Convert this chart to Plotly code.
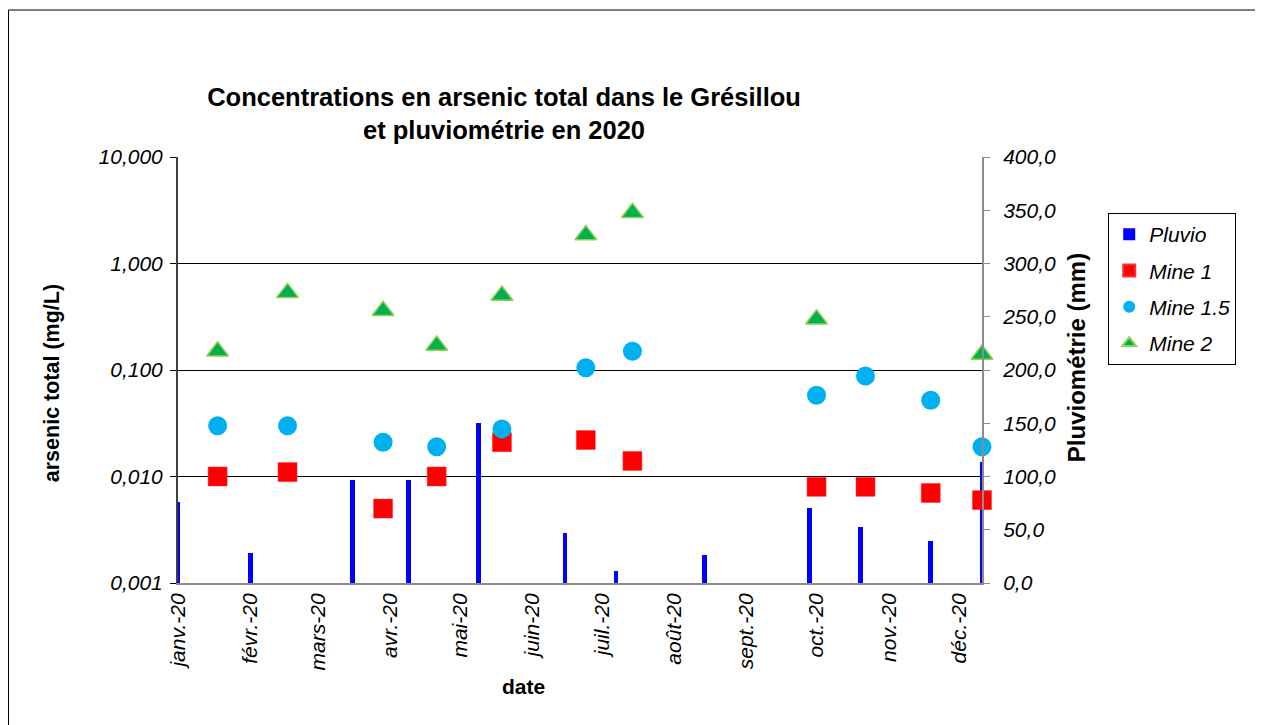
import plotly.graph_objects as go

# rainfall totals (mm), plotted as thin bars on the right axis
pluvio_dates = ["2020-01-01", "2020-02-01", "2020-03-16", "2020-04-09", "2020-05-09", "2020-06-15",
                "2020-07-07", "2020-08-14", "2020-09-28", "2020-10-20", "2020-11-19", "2020-12-11"]
pluvio_mm = [76, 28, 97, 97, 150, 47, 11, 26, 70, 53, 39, 114]

# arsenic sampling (mg/L), log scale on the left axis
sample_dates = ["2020-01-18", "2020-02-17", "2020-03-29", "2020-04-21", "2020-05-19", "2020-06-24",
                "2020-07-14", "2020-10-01", "2020-10-22", "2020-11-19", "2020-12-11"]
mine_1 = [0.010, 0.011, 0.005, 0.010, 0.021, 0.022, 0.014, 0.008, 0.008, 0.007, 0.006]
mine_1_5 = [0.030, 0.030, 0.021, 0.019, 0.028, 0.105, 0.15, 0.058, 0.088, 0.052, 0.019]
mine_2 = [0.15, 0.53, 0.36, 0.17, 0.50, 1.85, 3.0, 0.30, None, None, 0.14]

month_ticks = ["2020-01-01", "2020-02-01", "2020-03-01", "2020-04-01", "2020-05-01", "2020-06-01",
               "2020-07-01", "2020-08-01", "2020-09-01", "2020-10-01", "2020-11-01", "2020-12-01"]
month_labels = ["janv.-20", "févr.-20", "mars-20", "avr.-20", "mai-20", "juin-20",
                "juil.-20", "août-20", "sept.-20", "oct.-20", "nov.-20", "déc.-20"]

left_ticks = [0.001, 0.01, 0.1, 1, 10]
grid_vals = [0.01, 0.1, 1]
right_ticks = [0, 50, 100, 150, 200, 250, 300, 350, 400]

FONT = "Liberation Sans, Arial, sans-serif"
DAY_MS = 86400000

fig = go.Figure()

fig.add_trace(go.Bar(
    x=pluvio_dates, y=pluvio_mm, name="Pluvio", yaxis="y",
    width=2 * DAY_MS, marker=dict(color="#0000FF", line=dict(width=0)),
    legendgroup="a",
))
fig.add_trace(go.Scatter(
    x=sample_dates, y=mine_1, name="Mine 1", mode="markers", yaxis="y2",
    marker=dict(symbol="square", size=19, color="#FF0000", line=dict(color="#FF3030", width=0.5)),
    cliponaxis=False, legendgroup="b",
))
fig.add_trace(go.Scatter(
    x=sample_dates, y=mine_1_5, name="Mine 1.5", mode="markers", yaxis="y2",
    marker=dict(symbol="circle", size=19, color="#00B0F0", line=dict(width=0)),
    cliponaxis=False, legendgroup="c",
))
fig.add_trace(go.Scatter(
    x=sample_dates, y=mine_2, name="Mine 2", mode="markers", yaxis="y2",
    marker=dict(symbol="triangle-up", size=19, color="#00B050", line=dict(color="#92D050", width=1.5)),
    cliponaxis=False, legendgroup="d",
))
# invisible trace so the grid-only axis gets drawn
fig.add_trace(go.Scatter(x=[None], y=[None], yaxis="y3", showlegend=False, hoverinfo="skip"))

# page body has an 8px margin, so the figure is 8px smaller and shifted
fig.update_layout(
    width=1255, height=717,
    margin=dict(l=170, r=281, t=149, b=142),
    paper_bgcolor="white", plot_bgcolor="white",
    separators=", ",
    font=dict(family=FONT, size=21, color="black"),
    showlegend=True,
    bargap=0,
    title=dict(
        text="<b>Concentrations en arsenic total dans le Grésillou<br>et pluviométrie en 2020</b>",
        font=dict(family=FONT, size=25.5, color="black"),
        xref="paper", x=0.4055, xanchor="center",
        yref="container", y=0.864, yanchor="middle",
    ),
    xaxis=dict(
        type="date", range=["2020-01-01", "2020-12-11"],
        tickvals=month_ticks, ticktext=month_labels, tickangle=-90,
        tickfont=dict(family=FONT, size=21, style="italic"),
        ticks="", showgrid=False, zeroline=False,
        showline=True, linecolor="#8C8C8C", linewidth=2,
    ),
    yaxis=dict(
        side="right", range=[0, 400], tickvals=right_ticks, tickformat=".1f",
        tickfont=dict(family=FONT, size=21, style="italic"),
        ticks="outside", ticklen=6, tickcolor="#8C8C8C", ticklabelstandoff=9,
        showgrid=False, zeroline=False,
        showline=True, linecolor="#8C8C8C", linewidth=2,
    ),
    yaxis2=dict(
        type="log", range=[-3, 1], overlaying="y", side="left",
        tickvals=left_ticks, tickformat=".3f",
        tickfont=dict(family=FONT, size=21, style="italic"),
        ticks="outside", ticklen=6, tickcolor="black", ticklabelstandoff=3,
        showgrid=False, zeroline=False,
        showline=True, linecolor="#404040", linewidth=2,
    ),
    yaxis3=dict(
        type="log", range=[-3, 1], overlaying="y", anchor="x", side="left",
        tickvals=grid_vals, showticklabels=False, ticks="",
        showgrid=True, gridcolor="black", gridwidth=1,
        showline=False, zeroline=False,
    ),
    legend=dict(
        x=1.157, y=0.8685, xanchor="left", yanchor="top",
        bordercolor="black", borderwidth=1, bgcolor="white",
        font=dict(family=FONT, size=21, style="italic"),
        tracegroupgap=6, itemsizing="constant",
        entrywidth=105, entrywidthmode="pixels",
    ),
    annotations=[
        dict(text="<b>arsenic total (mg/L)</b>", xref="paper", yref="paper",
             x=-0.1567, y=0.469, xanchor="center", yanchor="middle",
             textangle=-90, showarrow=False, font=dict(family=FONT, size=21.5)),
        dict(text="<b>Pluviométrie (mm)</b>", xref="paper", yref="paper",
             x=1.1169, y=0.53, xanchor="center", yanchor="middle",
             textangle=-90, showarrow=False, font=dict(family=FONT, size=24)),
        dict(text="<b>date</b>", xref="paper", yref="paper",
             x=0.430, y=-0.2418, xanchor="center", yanchor="middle",
             showarrow=False, font=dict(family=FONT, size=21)),
    ],
    shapes=[
        dict(type="rect", xref="paper", yref="paper",
             x0=-0.2108, x1=1.3408, y0=-0.36, y1=1.345,
             line=dict(color="black", width=1), fillcolor="rgba(0,0,0,0)", layer="below"),
    ],
)

fig.write_html("out.html")
